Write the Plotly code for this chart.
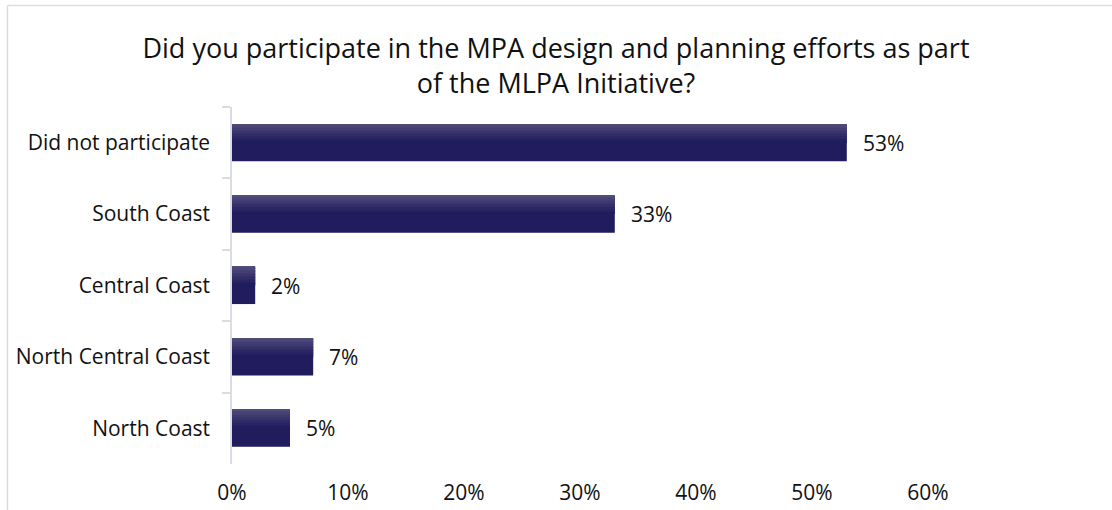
import plotly.graph_objects as go

# Survey responses: share of respondents per MLPA study region
categories = [
    "Did not participate",
    "South Coast",
    "Central Coast",
    "North Central Coast",
    "North Coast",
]
shares = [53, 33, 2, 7, 5]
x_ticks = [0, 10, 20, 30, 40, 50, 60]
x_tick_labels = [f"{v}%" for v in x_ticks]

TITLE = "Did you participate in the MPA design and planning efforts as part<br>of the MLPA Initiative?"

FONT = "Open Sans"
TEXT_COLOR = "#111111"
BASE = (0x21, 0x1C, 0x5E)     # body colour of the bars
TOP = (0x52, 0x4C, 0x7B)      # lighter sheen along the top edge
AXIS_GREY = "#d9dde3"

BAR_W = 0.52
SHEEN_FRAC = 0.5
N_STRIPES = 12


def mix(a, b, t):
    return "rgb({},{},{})".format(*[round(a[i] + (b[i] - a[i]) * t) for i in range(3)])


fig = go.Figure()

# solid bar body
fig.add_trace(go.Bar(
    y=categories, x=shares, orientation="h",
    width=BAR_W, offset=-BAR_W / 2,
    marker=dict(color=mix(BASE, BASE, 0), line=dict(width=0)),
    opacity=1, hoverinfo="x+y", showlegend=False,
))

# gradient sheen on the upper part of each bar, drawn as thin overlaid strips
stripe_h = BAR_W * SHEEN_FRAC / N_STRIPES
for k in range(N_STRIPES):
    t = k / (N_STRIPES - 1)
    fig.add_trace(go.Bar(
        y=categories, x=shares, orientation="h",
        width=stripe_h * 1.15, offset=-BAR_W / 2 + k * stripe_h,
        marker=dict(color=mix(TOP, BASE, t ** 0.9), line=dict(width=0)),
        opacity=1, hoverinfo="skip", showlegend=False,
    ))

# value labels to the right of each bar
for cat, val in zip(categories, shares):
    fig.add_annotation(
        x=val, y=cat, text=f"{val}%", showarrow=False,
        xanchor="left", yanchor="middle", xshift=14,
        font=dict(family=FONT, size=21, color=TEXT_COLOR),
    )

# light outer chart frame
fig.add_shape(type="line", xref="paper", yref="paper",
              x0=-0.3226, x1=1.3, y0=1.2843, y1=1.2843,
              line=dict(color=AXIS_GREY, width=1.5))
fig.add_shape(type="line", xref="paper", yref="paper",
              x0=-0.3226, x1=-0.3226, y0=-0.2, y1=1.2843,
              line=dict(color=AXIS_GREY, width=1.5))

fig.update_layout(
    width=1112, height=510,
    margin=dict(l=232, r=184, t=107, b=46, autoexpand=False),
    paper_bgcolor="white", plot_bgcolor="white",
    barmode="overlay",
    title=dict(
        text=TITLE, x=0.5, xref="container", xanchor="center",
        y=1 - 58 / 510, yref="container", yanchor="middle",
        font=dict(family=FONT, size=27, color=TEXT_COLOR),
    ),
    font=dict(family=FONT, size=21, color=TEXT_COLOR),
    xaxis=dict(
        range=[0, 60], tickvals=x_ticks, ticktext=x_tick_labels,
        showgrid=False, zeroline=False, showline=False, ticks="",
        ticklabelstandoff=14, automargin=False,
        tickfont=dict(family=FONT, size=21, color=TEXT_COLOR),
    ),
    yaxis=dict(
        categoryorder="array", categoryarray=categories,
        autorange="reversed", automargin=False,
        showgrid=False, zeroline=False,
        showline=True, linecolor=AXIS_GREY, linewidth=1.5,
        ticks="outside", tickson="boundaries", ticklen=8,
        tickcolor=AXIS_GREY, tickwidth=1.5,
        ticklabelstandoff=16,
        tickfont=dict(family=FONT, size=21, color=TEXT_COLOR),
    ),
)

fig.write_html("out.html")
